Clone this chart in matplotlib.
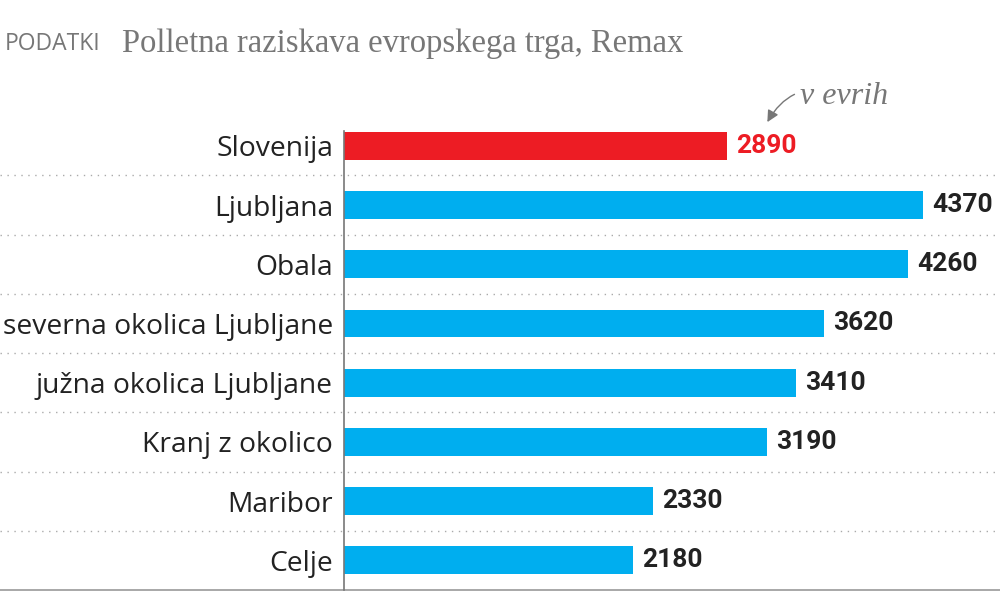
import matplotlib.pyplot as plt
from matplotlib.transforms import blended_transform_factory

regions = ["Slovenija", "Ljubljana", "Obala", "severna okolica Ljubljane",
           "južna okolica Ljubljane", "Kranj z okolico", "Maribor", "Celje"]
prices = [2890, 4370, 4260, 3620, 3410, 3190, 2330, 2180]
colors = ["#ED1C24"] + ["#00AEEF"] * 7
value_colors = ["#ED1C24"] + ["#222222"] * 7

label_font = ["Open Sans", "DejaVu Sans"]
num_font = ["Roboto", "DejaVu Sans"]
serif_font = ["Liberation Serif", "DejaVu Serif"]

fig = plt.figure(figsize=(10, 6), dpi=100)
ax = fig.add_axes([0.344, 1 - 590 / 600, 0.656, (590 - 131) / 600])

y = list(range(len(regions)))
ax.barh(y, prices, height=0.47, color=colors, zorder=2)
ax.set_xlim(0, 656 / 0.1325)
ax.set_ylim(7.5, -0.25)

for yi, v, c in zip(y, prices, value_colors):
    ax.annotate(str(v), (v, yi), xytext=(6.5, 0), textcoords="offset points",
                va="center", ha="left", fontsize=19, fontweight="bold",
                color=c, family=num_font)

ax.set_yticks(y)
ax.set_yticklabels(regions, fontsize=20.3, color="#222222", family=label_font)
ax.tick_params(axis="y", length=0, pad=8)
ax.set_xticks([])
for s in ["top", "right", "bottom"]:
    ax.spines[s].set_visible(False)
ax.spines["left"].set_color("#777777")
ax.spines["left"].set_linewidth(1.2)

# dotted separators reaching across the whole figure
tr = blended_transform_factory(fig.transFigure, ax.transData)
for i in range(len(regions) - 1):
    ax.plot([0, 1], [i + 0.5, i + 0.5], transform=tr, clip_on=False,
            color="#aaaaaa", lw=1, linestyle=(0, (1, 4)), zorder=1)
ax.plot([0, 1], [7.5, 7.5], transform=tr, clip_on=False, color="#999999", lw=1.2)

# source line
fig.text(0.005, 1 - 44 / 600, "PODATKI", fontsize=16.5, color="#777777",
         family=label_font, va="center")
fig.text(0.122, 1 - 44 / 600, "Polletna raziskava evropskega trga, Remax",
         fontsize=23.5, color="#777777", family=serif_font, va="center")

# unit note with curved arrow
ax.annotate("v evrih", xy=(3195, -0.4), xycoords="data",
            xytext=(3440, -0.83), textcoords="data",
            fontsize=23, style="italic", color="#777777",
            family=serif_font, va="center", ha="left",
            annotation_clip=False,
            arrowprops=dict(arrowstyle="-|>,head_length=0.3,head_width=0.15",
                            color="#777777", lw=1,
                            connectionstyle="arc3,rad=0.45",
                            shrinkA=2, shrinkB=0))

fig.savefig("out.png", dpi=100)
